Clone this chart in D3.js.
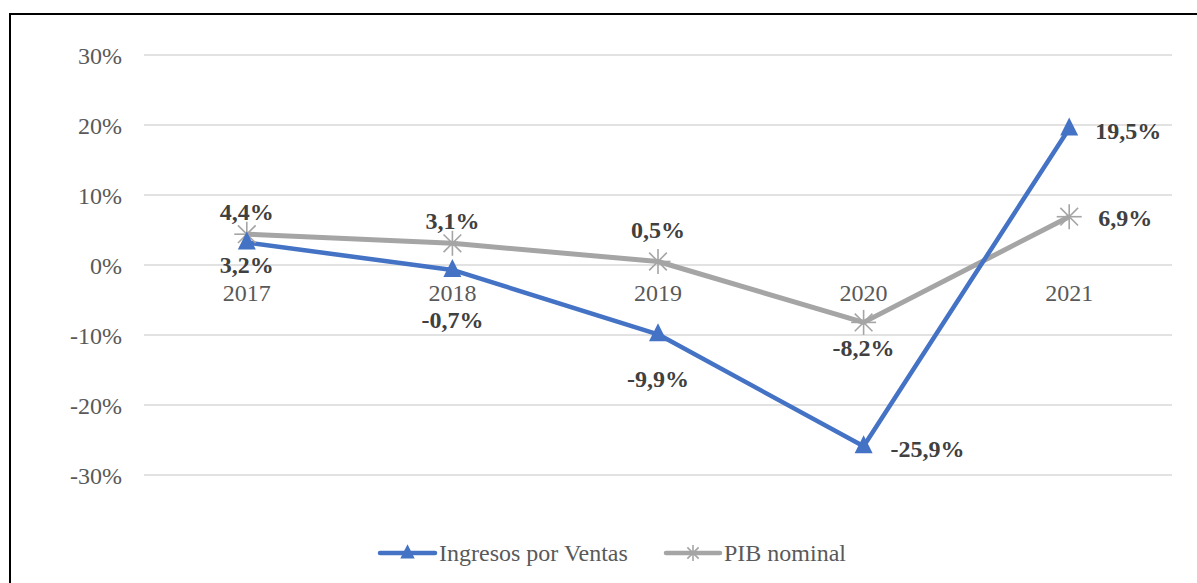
<!DOCTYPE html>
<html><head><meta charset="utf-8">
<script src="https://cdn.jsdelivr.net/npm/d3@7"></script>
<style>body{margin:0;background:#fff}svg{display:block}</style>
</head><body>
<svg id="c" width="1197" height="583"></svg>
<script>
const categories = ["2017","2018","2019","2020","2021"];
const ingresos = [3.2, -0.7, -9.9, -25.9, 19.5];
const pib = [4.4, 3.1, 0.5, -8.2, 6.9];
const yTicks = [30, 20, 10, 0, -10, -20, -30];
const seriesNames = ["Ingresos por Ventas", "PIB nominal"];

// label layout (offsets from marker, px): [dx, dy, anchor]
const ingresosLabelLayout = [[0,22,"middle"],[0,50,"middle"],[0,44,"middle"],[27,2,"start"],[26,2,"start"]];
const pibLabelLayout = [[0,-23,"middle"],[0,-23,"middle"],[0,-32,"middle"],[0,25,"middle"],[29,1,"start"]];

const svg = d3.select("#c");
const W = 1197, H = 583;
const font = "'Liberation Serif','Times New Roman',serif";
const FS = 24;

svg.append("rect").attr("x",10).attr("y",14).attr("width",W+10).attr("height",H+10)
  .attr("fill","#fff").attr("stroke","#000").attr("stroke-width",2);

const x = d3.scaleBand().domain(categories).range([144,1172]);
const y = d3.scaleLinear().domain([-30,30]).range([475,55]);
const cx = c => x(c) + x.bandwidth()/2;

const g = svg.append("g");
g.selectAll("line.grid").data(yTicks).join("line")
  .attr("x1",144).attr("x2",1172).attr("y1",d=>y(d)).attr("y2",d=>y(d))
  .attr("stroke","#d9d9d9").attr("stroke-width",1.5);

const yAxis = d3.axisLeft(y).tickValues(yTicks).tickSize(0).tickPadding(0)
  .tickFormat(d => String(d).replace("\u2212","-") + "%");
const ya = svg.append("g").attr("transform","translate(122,0)").call(yAxis);
ya.select(".domain").remove();
ya.selectAll("text").attr("font-family",font).attr("font-size",FS).attr("fill","#595959").attr("dy","0.35em");

const xAxis = d3.axisBottom(x).tickSize(0).tickPadding(0);
const xa = svg.append("g").attr("transform",`translate(0,${y(0)})`).call(xAxis);
xa.select(".domain").remove();
xa.selectAll("text").attr("font-family",font).attr("font-size",FS).attr("fill","#595959")
  .attr("y",28).attr("dy","0.35em");

const line = d3.line().x((d,i)=>cx(categories[i])).y(d=>y(d));
const blue = "#4472c4", gray = "#a5a5a5";

svg.append("path").datum(pib).attr("d",line).attr("fill","none")
  .attr("stroke",gray).attr("stroke-width",5).attr("stroke-linejoin","round");
svg.append("path").datum(ingresos).attr("d",line).attr("fill","none")
  .attr("stroke",blue).attr("stroke-width",4.5).attr("stroke-linejoin","round");

function star(sel, px, py, r, color){
  const a = [0, Math.PI/4, Math.PI/2, 3*Math.PI/4];
  a.forEach(t=>{
    sel.append("line").attr("x1",px-r*Math.cos(t)).attr("y1",py-r*Math.sin(t))
      .attr("x2",px+r*Math.cos(t)).attr("y2",py+r*Math.sin(t))
      .attr("stroke",color).attr("stroke-width",1.6);
  });
}
function tri(sel, px, py, k, color){
  sel.append("path").attr("d",`M${px},${py-11*k}L${px+9*k},${py+7*k}L${px-9*k},${py+7*k}Z`)
    .attr("fill",color);
}

const mk = svg.append("g");
pib.forEach((v,i)=> star(mk, cx(categories[i]), y(v), 12.5, gray));
ingresos.forEach((v,i)=> tri(mk, cx(categories[i]), y(v), 1, blue));

const fmt = v => d3.format(".1f")(v).replace("\u2212","-").replace(".",",") + "%";
function labels(data, layout){
  data.forEach((v,i)=>{
    const px = cx(categories[i]), py = y(v);
    const [dx, dy, anchor] = layout[i];
    svg.append("text").attr("x",px+dx).attr("y",py+dy).attr("text-anchor",anchor)
      .attr("dy","0.35em").attr("font-family",font).attr("font-size",FS)
      .attr("font-weight","bold").attr("fill","#404040").text(fmt(v));
  });
}
labels(pib, pibLabelLayout);
labels(ingresos, ingresosLabelLayout);

// legend
const lg = svg.append("g");
const legendItems = [
  {name: seriesNames[0], color: blue, x1: 380, x2: 435, tx: 439, m: "tri"},
  {name: seriesNames[1], color: gray, x1: 666, x2: 720, tx: 724, m: "star"}
];
legendItems.forEach(d=>{
  lg.append("line").attr("x1",d.x1).attr("x2",d.x2).attr("y1",553).attr("y2",553)
    .attr("stroke",d.color).attr("stroke-width",4.5).attr("stroke-linecap","round");
  const mx = (d.x1+d.x2)/2;
  if (d.m==="tri") tri(lg, mx, 553, 0.8, d.color); else star(lg, mx, 553, 8, d.color);
  lg.append("text").attr("x",d.tx).attr("y",553).attr("dy","0.35em")
    .attr("font-family",font).attr("font-size",FS).attr("fill","#595959").text(d.name);
});
</script>
</body></html>
